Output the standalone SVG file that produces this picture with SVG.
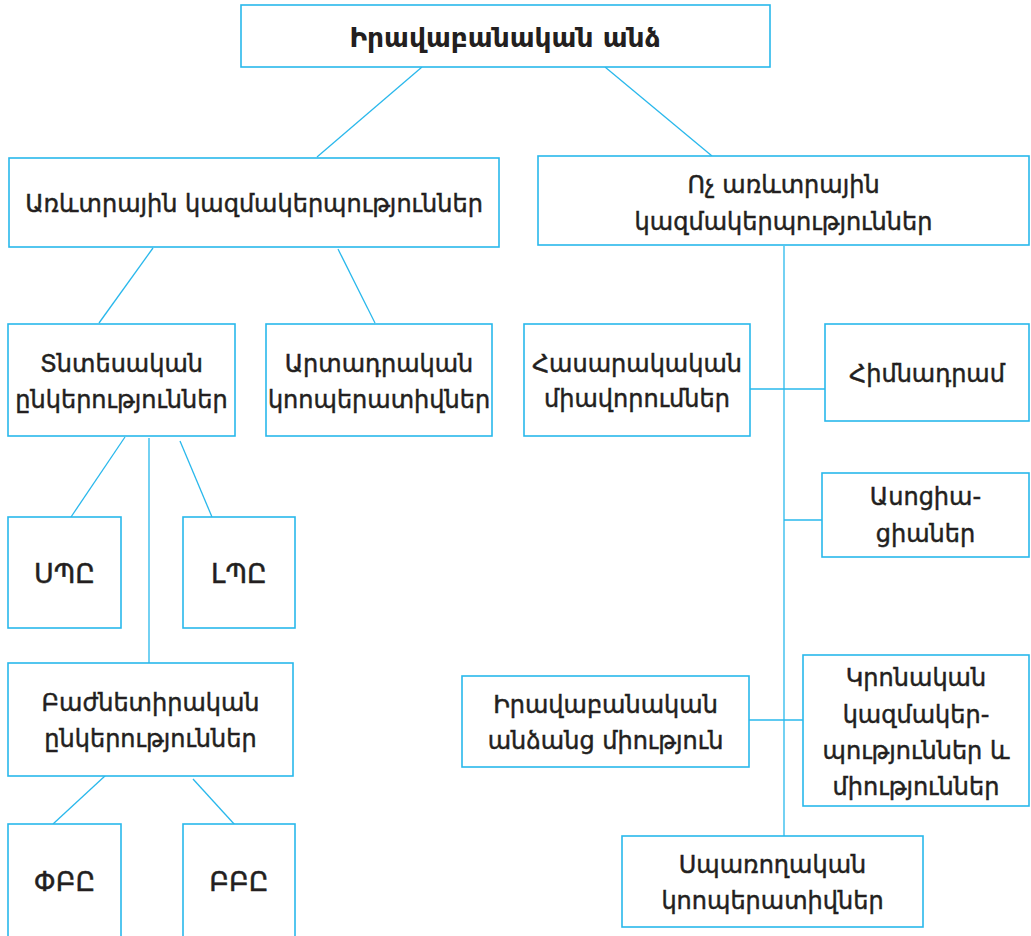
<svg xmlns="http://www.w3.org/2000/svg" width="1031" height="936" viewBox="0 0 1031 936">
<style>
.box{fill:#fff;stroke:#29b8ec;stroke-width:1.6}
.ln{stroke:#29b8ec;stroke-width:1.3;fill:none}
text{font-family:"DejaVu Sans","Noto Sans",sans-serif;font-size:24px;fill:#231f20;stroke:#231f20;stroke-width:0.45;text-anchor:middle}
.t{font-weight:bold;font-size:26.5px;stroke-width:0}
.c{font-size:27px}
</style>
<rect width="1031" height="936" fill="#fff"/>
<g id="connectors">
<line class="ln" x1="422" y1="67" x2="317" y2="157"/>
<line class="ln" x1="605" y1="67" x2="712" y2="156"/>
<line class="ln" x1="153" y1="248" x2="99" y2="323"/>
<line class="ln" x1="338" y1="249" x2="375" y2="323"/>
<line class="ln" x1="125" y1="437" x2="71" y2="517"/>
<line class="ln" x1="180" y1="441" x2="212" y2="517"/>
<line class="ln" x1="149" y1="438" x2="149" y2="663"/>
<line class="ln" x1="106" y1="775" x2="53" y2="824"/>
<line class="ln" x1="193" y1="779" x2="235" y2="825"/>
<line class="ln" x1="784" y1="246" x2="784" y2="836"/>
<line class="ln" x1="750" y1="389" x2="825" y2="389"/>
<line class="ln" x1="784" y1="520" x2="822" y2="520"/>
<line class="ln" x1="749" y1="720" x2="803" y2="720"/>
</g>
<g id="n-root"><rect class="box" x="241" y="5" width="529" height="62"/><text class="t" x="505" y="47">Իրավաբանական անձ</text></g>
<g id="n-comm"><rect class="box" x="9" y="158" width="490" height="89"/><text x="254" y="212">Առևտրային կազմակերպություններ</text></g>
<g id="n-noncomm"><rect class="box" x="538" y="156" width="491" height="89"/><text x="783.5" y="193">Ոչ առևտրային</text><text x="783.5" y="230">կազմակերպություններ</text></g>
<g id="n-econ"><rect class="box" x="8" y="324" width="227" height="112"/><text x="121.5" y="372">Տնտեսական</text><text x="121.5" y="408">ընկերություններ</text></g>
<g id="n-prod"><rect class="box" x="266" y="324" width="226" height="112"/><text x="379" y="372">Արտադրական</text><text x="379" y="408">կոոպերատիվներ</text></g>
<g id="n-spe"><rect class="box" x="8" y="517" width="113" height="111"/><text class="c" x="64.5" y="583">ՍՊԸ</text></g>
<g id="n-lpe"><rect class="box" x="183" y="517" width="112" height="111"/><text class="c" x="239" y="583">ԼՊԸ</text></g>
<g id="n-joint"><rect class="box" x="8" y="663" width="285" height="113"/><text x="150.5" y="711">Բաժնետիրական</text><text x="150.5" y="747">ընկերություններ</text></g>
<g id="n-pbe"><rect class="box" x="8" y="824" width="113" height="130"/><text class="c" x="64.5" y="891">ՓԲԸ</text></g>
<g id="n-bbe"><rect class="box" x="183" y="824" width="112" height="130"/><text class="c" x="239" y="891">ԲԲԸ</text></g>
<g id="n-public"><rect class="box" x="524" y="324" width="226" height="112"/><text x="637" y="372">Հասարակական</text><text x="637" y="407">միավորումներ</text></g>
<g id="n-fund"><rect class="box" x="825" y="324" width="204" height="97"/><text x="927" y="382">Հիմնադրամ</text></g>
<g id="n-assoc"><rect class="box" x="822" y="473" width="207" height="84"/><text x="925.5" y="505">Ասոցիա-</text><text x="925.5" y="542">ցիաներ</text></g>
<g id="n-union"><rect class="box" x="462" y="676" width="287" height="91"/><text x="605.5" y="713">Իրավաբանական</text><text x="605.5" y="749">անձանց միություն</text></g>
<g id="n-relig"><rect class="box" x="803" y="655" width="226" height="151"/><text x="916" y="686">Կրոնական</text><text x="916" y="723">կազմակեր-</text><text x="916" y="759">պություններ և</text><text x="916" y="795">միություններ</text></g>
<g id="n-consumer"><rect class="box" x="622" y="836" width="301" height="91"/><text x="772.5" y="873">Սպառողական</text><text x="772.5" y="909">կոոպերատիվներ</text></g>
</svg>
